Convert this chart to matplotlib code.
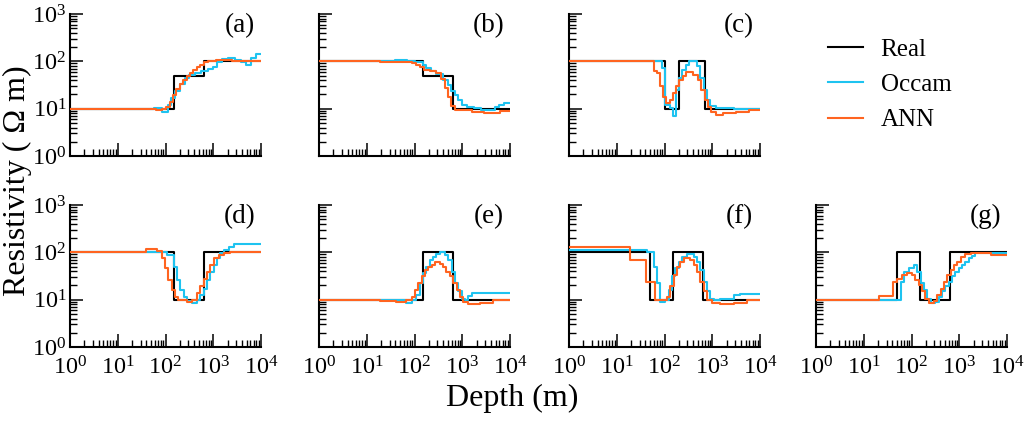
import numpy as np
import matplotlib
matplotlib.use("Agg")
import matplotlib.pyplot as plt
from matplotlib.lines import Line2D
from matplotlib.ticker import LogLocator, NullFormatter

plt.rcParams['font.family'] = 'serif'
plt.rcParams['font.serif'] = ['Liberation Serif', 'DejaVu Serif']
plt.rcParams['mathtext.fontset'] = 'custom'
plt.rcParams['mathtext.rm'] = 'Liberation Serif'
plt.rcParams['mathtext.it'] = 'Liberation Serif:italic'

# true models: layer tops (m) and resistivity (ohm m)
real_a_top = [1, 150, 650]
real_a_rho = [10, 50, 100]
real_b_top = [1, 150, 650]
real_b_rho = [100, 50, 10]
real_c_top = [1, 100, 200, 700]
real_c_rho = [100, 10, 100, 10]
real_d_top = [1, 150, 650]
real_d_rho = [100, 10, 100]
real_e_top = [1, 150, 650]
real_e_rho = [10, 100, 10]
real_f_top = [1, 50, 150, 650]
real_f_rho = [100, 10, 100, 10]
real_g_top = [1, 50, 150, 650]
real_g_rho = [10, 100, 10, 100]

# inversion results: layer tops as log10(depth), resistivity
occ_a_logz = [0, 1.75, 1.85, 1.93, 2.05, 2.12, 2.2, 2.3, 2.4, 2.5, 2.62, 2.75, 2.88, 3.0, 3.08, 3.18, 3.3, 3.45, 3.58, 3.68, 3.8, 3.9]
occ_a_rho = [10, 10.5, 10.2, 8.7, 12, 17, 24, 34, 45, 52, 56, 62, 68, 76, 95, 110, 118, 108, 95, 85, 115, 145]
ann_a_logz = [0, 1.8, 1.92, 2.02, 2.09, 2.16, 2.23, 2.3, 2.37, 2.44, 2.51, 2.58, 2.65, 2.72, 2.8, 2.9, 3.05, 3.4]
ann_a_rho = [10, 9.5, 9.8, 11, 14, 19, 26, 33, 40, 48, 57, 66, 76, 85, 95, 102, 106, 101]

occ_b_logz = [0, 1.6, 1.85, 2.0, 2.18, 2.25, 2.35, 2.46, 2.6, 2.7, 2.77, 2.84, 2.92, 3.0, 3.1, 3.25, 3.4, 3.68, 3.78, 3.88]
occ_b_rho = [100, 105, 100, 97, 85, 72, 62, 54, 40, 31, 24, 19, 15, 12, 10.8, 10.2, 9.5, 10.8, 12, 13]
ann_b_logz = [0, 1.27, 1.95, 2.04, 2.12, 2.2, 2.32, 2.45, 2.56, 2.63, 2.7, 2.77, 2.84, 2.92, 3.2, 3.45, 3.8]
ann_b_rho = [100, 96, 92, 85, 75, 67, 64, 58, 43, 28, 18, 11.5, 9.5, 9.3, 8.7, 8.2, 8.8]

occ_c_logz = [0, 1.95, 2.02, 2.12, 2.18, 2.25, 2.3, 2.36, 2.44, 2.51, 2.68, 2.75, 2.82, 2.89, 2.96, 3.07, 3.45]
occ_c_rho = [100, 72, 12, 10.3, 7, 25, 45, 65, 85, 100, 80, 45, 25, 15, 11.5, 10.3, 10]
ann_c_logz = [0, 1.77, 1.84, 1.91, 1.97, 2.04, 2.12, 2.18, 2.25, 2.31, 2.38, 2.45, 2.6, 2.7, 2.77, 2.84, 2.91, 2.98, 3.08, 3.22, 3.5, 3.78]
ann_c_rho = [100, 62, 56, 30, 18, 13, 15, 21, 30, 40, 50, 59, 52, 41, 25, 15, 11, 8.7, 7.5, 8, 8.6, 9.5]

occ_d_logz = [0, 2.03, 2.17, 2.24, 2.31, 2.38, 2.45, 2.55, 2.66, 2.73, 2.8, 2.87, 2.94, 3.01, 3.08, 3.15, 3.22, 3.32, 3.43]
occ_d_rho = [100, 88, 50, 26, 16, 11.5, 9.5, 8.3, 9.8, 12.5, 17, 26, 39, 54, 75, 95, 112, 132, 148]
ann_d_logz = [0, 1.6, 1.82, 1.92, 1.99, 2.06, 2.13, 2.2, 2.27, 2.45, 2.55, 2.66, 2.73, 2.8, 2.87, 2.94, 3.01, 3.11, 3.22, 3.36]
ann_d_rho = [100, 116, 107, 75, 46, 26, 16, 11.5, 9.8, 9, 10, 13.5, 19, 28, 39, 54, 75, 88, 98, 100]

occ_e_logz = [0, 1.55, 1.83, 1.94, 2.04, 2.11, 2.18, 2.25, 2.32, 2.39, 2.46, 2.53, 2.64, 2.71, 2.78, 2.85, 2.92, 2.99, 3.06, 3.13, 3.2]
occ_e_rho = [10, 9.8, 8.3, 9.8, 12.5, 22, 36, 50, 69, 81, 92, 100, 88, 69, 39, 22, 15, 10.5, 9.8, 12, 13.5]
ann_e_logz = [0, 1.27, 1.62, 1.83, 1.94, 2.01, 2.08, 2.15, 2.22, 2.29, 2.36, 2.43, 2.53, 2.6, 2.67, 2.74, 2.81, 2.88, 2.95, 3.02, 3.13, 3.37, 3.65]
ann_e_rho = [10, 9.5, 9, 9.8, 11.5, 16, 22, 31, 42, 50, 54, 63, 58, 50, 39, 31, 22, 16, 11.5, 9, 8, 8.5, 9.8]

occ_f_logz = [0, 1.63, 1.77, 1.84, 1.91, 2.02, 2.09, 2.16, 2.23, 2.3, 2.37, 2.47, 2.61, 2.68, 2.75, 2.82, 2.89, 2.96, 3.03, 3.17, 3.45, 3.59]
occ_f_rho = [112, 100, 50, 22, 9, 9.8, 16, 31, 46, 63, 81, 91, 81, 63, 42, 24, 15, 10.5, 9.8, 10.5, 12.5, 13]
ann_f_logz = [0, 1.28, 1.61, 1.81, 2.05, 2.12, 2.19, 2.26, 2.33, 2.4, 2.54, 2.61, 2.68, 2.75, 2.82, 2.89, 2.99, 3.17, 3.45, 3.73]
ann_f_rho = [130, 69, 24, 10, 11.5, 19, 34, 50, 63, 75, 69, 54, 39, 24, 15, 10, 8.6, 8, 8.6, 9.8]

occ_g_logz = [0, 1.77, 1.84, 1.94, 2.05, 2.12, 2.19, 2.26, 2.33, 2.4, 2.5, 2.57, 2.64, 2.71, 2.78, 2.85, 2.92, 2.99, 3.06, 3.13, 3.2, 3.27, 3.34, 3.45]
occ_g_rho = [10, 24, 39, 46, 54, 39, 22, 16, 10.5, 8.3, 9, 11.5, 15, 19, 24, 31, 39, 46, 54, 63, 75, 84, 95, 98]
ann_g_logz = [0, 1.31, 1.62, 1.7, 1.8, 1.91, 2.01, 2.08, 2.15, 2.22, 2.29, 2.36, 2.47, 2.54, 2.61, 2.68, 2.75, 2.82, 2.89, 2.96, 3.03, 3.13, 3.24, 3.66]
ann_g_rho = [10, 12, 24, 27, 33, 37, 33, 26, 20, 15, 10.5, 8.3, 9.5, 12.5, 17, 24, 33, 42, 54, 63, 81, 92, 95, 88]

panels = [
    ('(a)', real_a_top, real_a_rho, occ_a_logz, occ_a_rho, ann_a_logz, ann_a_rho),
    ('(b)', real_b_top, real_b_rho, occ_b_logz, occ_b_rho, ann_b_logz, ann_b_rho),
    ('(c)', real_c_top, real_c_rho, occ_c_logz, occ_c_rho, ann_c_logz, ann_c_rho),
    ('(d)', real_d_top, real_d_rho, occ_d_logz, occ_d_rho, ann_d_logz, ann_d_rho),
    ('(e)', real_e_top, real_e_rho, occ_e_logz, occ_e_rho, ann_e_logz, ann_e_rho),
    ('(f)', real_f_top, real_f_rho, occ_f_logz, occ_f_rho, ann_f_logz, ann_f_rho),
    ('(g)', real_g_top, real_g_rho, occ_g_logz, occ_g_rho, ann_g_logz, ann_g_rho),
]
# (column, row) of each panel
slots = [(0, 0), (1, 0), (2, 0), (0, 1), (1, 1), (2, 1), (3, 1)]

c_real = 'black'
c_occ = '#1ec3f0'
c_ann = '#ff6420'
zmax = 1e4

fig = plt.figure(figsize=(10.24, 4.21), dpi=100)
lefts = [70, 319, 569, 816]
tops = [14, 205]
W, H = 191, 142


def steps(top, rho):
    x = list(top) + [zmax]
    y = list(rho) + [rho[-1]]
    return x, y


for (lab, rt, rr, oz, orr, az, ar), (col, row) in zip(panels, slots):
    ax = fig.add_axes([lefts[col] / 1024, 1 - (tops[row] + H) / 421, W / 1024, H / 421])
    ax.set_xscale('log')
    ax.set_yscale('log')

    x, y = steps(rt, rr)
    ax.step(x, y, where='post', color=c_real, lw=1.5, zorder=3)
    x, y = steps(10 ** np.array(oz), orr)
    ax.step(x, y, where='post', color=c_occ, lw=1.5, zorder=4)
    x, y = steps(10 ** np.array(az), ar)
    ax.step(x, y, where='post', color=c_ann, lw=1.5, zorder=5)

    ax.set_xlim(1, zmax)
    ax.set_ylim(1, 1e3)
    for s in ['top', 'right']:
        ax.spines[s].set_visible(False)
    for s in ['left', 'bottom']:
        ax.spines[s].set_linewidth(1.5)

    ax.xaxis.set_major_locator(LogLocator(base=10, numticks=10))
    ax.xaxis.set_minor_locator(LogLocator(base=10, subs=np.arange(2, 10), numticks=10))
    ax.yaxis.set_major_locator(LogLocator(base=10, numticks=10))
    ax.yaxis.set_minor_locator(LogLocator(base=10, subs=np.arange(2, 10), numticks=10))
    ax.xaxis.set_minor_formatter(NullFormatter())
    ax.yaxis.set_minor_formatter(NullFormatter())
    ax.tick_params(which='major', direction='in', length=9.5, width=1.1, labelsize=17.5)
    ax.tick_params(which='minor', direction='in', length=5, width=1.0)
    ax.tick_params(axis='x', which='major', pad=7)
    ax.tick_params(axis='y', which='major', pad=2.5)
    if col != 0:
        ax.tick_params(axis='y', labelleft=False)
    if row == 0:
        ax.tick_params(axis='x', labelbottom=False)

    ax.text(0.89, 0.92, lab, transform=ax.transAxes, ha='center', va='center', fontsize=19.5)

handles = [Line2D([], [], color=c_real, lw=1.5),
           Line2D([], [], color=c_occ, lw=1.5),
           Line2D([], [], color=c_ann, lw=1.5)]
fig.legend(handles, ['Real', 'Occam', 'ANN'], loc='upper left',
           bbox_to_anchor=(828 / 1024, 1 - 38 / 421), frameon=False, fontsize=18,
           handlelength=1.4, handletextpad=0.7, labelspacing=0.52,
           borderpad=0, borderaxespad=0)

fig.text(0.017, 0.57, 'Resistivity ( \u03a9 m)', rotation=90, ha='center', va='center', fontsize=23)
fig.text(0.5, 0.053, 'Depth (m)', ha='center', va='center', fontsize=23)

fig.savefig('out.png', dpi=100)
